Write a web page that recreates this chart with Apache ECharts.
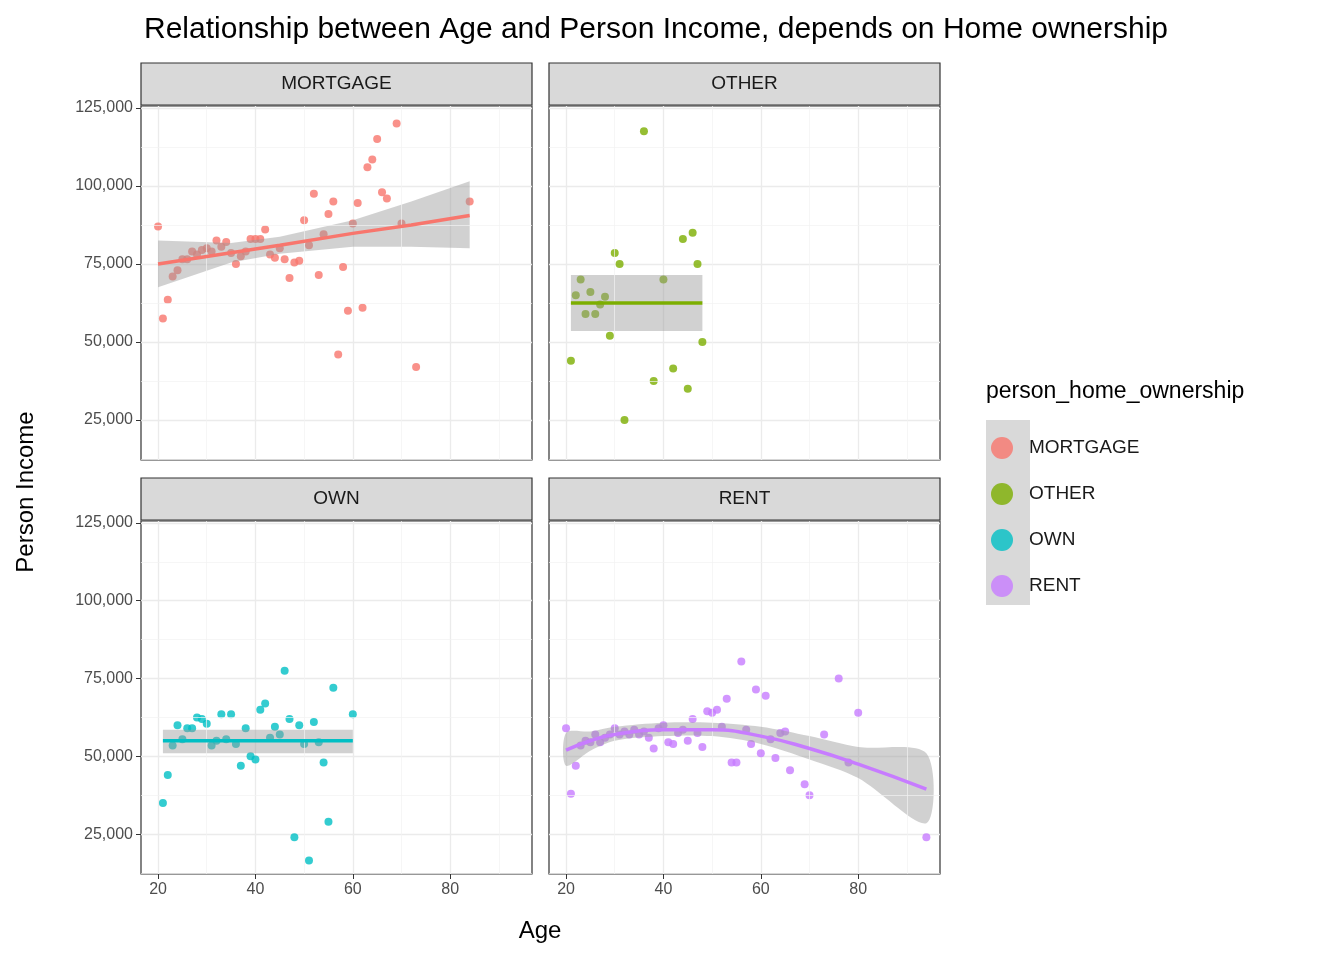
<!DOCTYPE html><html><head><meta charset="utf-8">
<script src="https://cdn.jsdelivr.net/npm/echarts@6/dist/echarts.min.js"></script>
<style>html,body{margin:0;padding:0;background:#fff}#c{width:1344px;height:960px}</style></head><body><div id="c"></div>
<script>
const panels=['MORTGAGE','OTHER','OWN','RENT'];
const colors=['#F8766D','#7CAE00','#00BFC4','#C77CFF'];
const xTicks=[20,40,60,80], xMinor=[30,50,70,90];
const yTicks=[25000,50000,75000,100000,125000], yMinor=[12500,37500,62500,87500,112500];
const mortgage=[[20,87000],[21,57500],[22,63500],[23,71000],[24,73000],[25,76500],[26,76500],[27,79000],[28,78000],[29,79500],[30,80000],[31,79000],[32,82500],[33,80500],[34,82000],[35,78500],[36,75000],[37,77500],[38,79000],[39,83000],[40,83000],[41,83000],[42,86000],[43,78000],[44,77000],[45,80000],[46,76500],[47,70500],[48,75500],[49,76000],[50,89000],[51,81000],[52,97500],[53,71500],[54,84500],[55,91000],[56,95000],[57,46000],[58,74000],[59,60000],[60,88000],[61,94500],[62,61000],[63,106000],[64,108500],[65,115000],[66,98000],[67,96000],[69,120000],[70,88000],[73,42000],[84,95000]];
const other=[[21,44000],[22,65000],[23,70000],[24,59000],[25,66000],[26,59000],[27,62000],[28,64500],[29,52000],[30,78500],[31,75000],[32,25000],[36,117500],[38,37500],[40,70000],[42,41500],[44,83000],[45,35000],[46,85000],[47,75000],[48,50000]];
const own=[[21,35000],[22,44000],[23,53500],[24,60000],[25,55500],[26,59000],[27,59000],[28,62500],[29,62000],[30,60500],[31,53500],[32,55000],[33,63500],[34,55500],[35,63500],[36,54000],[37,47000],[38,59000],[39,50000],[40,49000],[41,65000],[42,67000],[43,56000],[44,59500],[45,57000],[46,77500],[47,62000],[48,24000],[49,60000],[50,54000],[51,16500],[52,61000],[53,54500],[54,48000],[55,29000],[56,72000],[60,63500]];
const rent=[[20,59000],[21,38000],[22,47000],[23,53500],[24,55000],[25,54500],[26,57000],[27,54500],[28,56000],[29,57000],[30,59000],[31,57000],[32,58000],[33,57000],[34,58500],[35,57000],[36,58000],[37,56000],[38,52500],[39,59000],[40,60000],[41,54500],[42,54000],[43,57500],[44,58500],[45,55000],[46,62000],[47,57500],[48,53000],[49,64500],[50,64000],[51,65000],[52,59500],[53,68500],[54,48000],[55,48000],[56,80500],[57,58500],[58,54000],[59,71500],[60,51000],[61,69500],[62,55500],[63,49500],[64,57500],[65,58000],[66,45500],[69,41000],[70,37500],[73,57000],[76,75000],[78,48000],[80,64000],[94,24000]];
// fits: [x, fit, lower, upper]
const fitMortgage=[[20,75000,67500,82500],[35,78600,75500,81700],[45,81000,78300,83700],[60,84800,80500,89000],[72,87500,80500,95000],[84,90500,80000,101500]];
const fitOther=[[21,62500,53500,71500],[48,62500,53500,71500]];
const fitOwn=[[21,55000,51000,58500],[60,55000,51000,58500]];
const fitRent=[[20,52000,47000,57500],[25,55000,51800,58000],[30,57000,55000,59500],[40,58500,56500,60800],[50,58500,56500,60800],[60,56500,54000,59500],[70,52500,49000,56500],[80,47500,43000,53000],[94,39500,28500,51000]];
const pts=[mortgage,other,own,rent], fits=[fitMortgage,fitOther,fitOwn,fitRent];

const grids=[{left:141,top:106,width:391,height:354},{left:549,top:106,width:391,height:354},{left:141,top:521,width:391,height:353},{left:549,top:521,width:391,height:353}];
const F='Liberation Sans, Arial, sans-serif';
const xAxis=[],yAxis=[],series=[];
grids.forEach((g,i)=>{
  xAxis.push({type:'value',gridIndex:i,min:16.5,max:96.8,
    axisLine:{show:false},axisTick:{show:i>=2,customValues:xTicks,length:5,lineStyle:{color:'#333'}},
    axisLabel:{show:i>=2,customValues:xTicks,color:'#4d4d4d',fontSize:16,fontFamily:F,margin:8},
    splitLine:{show:true,lineStyle:{color:'#ebebeb',width:1.3}}});
  yAxis.push({type:'value',gridIndex:i,min:12200,max:125600,
    axisLine:{show:false},axisTick:{show:i%2==0,customValues:yTicks,length:5,lineStyle:{color:'#333'}},
    axisLabel:{show:i%2==0,customValues:yTicks,color:'#4d4d4d',fontSize:16,fontFamily:F,margin:8},
    splitLine:{show:true,lineStyle:{color:'#ebebeb',width:1.3}}});
  const band=fits[i];
  series.push({type:'scatter',xAxisIndex:i,yAxisIndex:i,data:[],silent:true,
    markLine:{silent:true,symbol:'none',label:{show:false},lineStyle:{color:'#f2f2f2',width:0.7,type:'solid'},
      data:xMinor.map(v=>({xAxis:v})).concat(yMinor.map(v=>({yAxis:v})))}});
  series.push({type:'scatter',name:panels[i],xAxisIndex:i,yAxisIndex:i,data:pts[i],symbolSize:8,
    itemStyle:{color:colors[i],opacity:0.8},z:3});
  series.push({type:'custom',xAxisIndex:i,yAxisIndex:i,data:[0],z:4,silent:true,
    renderItem:(params,api)=>{
      const up=band.map(r=>api.coord([r[0],r[3]]));
      const lo=band.map(r=>api.coord([r[0],r[2]])).reverse();
      return {type:'polygon',shape:{points:up.concat(lo),smooth:i==3?0.3:0},style:{fill:'rgba(153,153,153,0.45)'}};
    }});
  series.push({type:'line',name:panels[i],xAxisIndex:i,yAxisIndex:i,data:band.map(r=>[r[0],r[1]]),
    smooth:i==3,showSymbol:false,symbol:'circle',symbolSize:9,lineStyle:{color:colors[i],width:3.5},itemStyle:{color:colors[i]},z:5});
});
const strips=grids.map((g,i)=>({type:'group',children:[
  {type:'rect',shape:{x:g.left,y:g.top-43,width:g.width,height:42},style:{fill:'#d9d9d9',stroke:'#333',lineWidth:1.2}},
  {type:'text',x:g.left+g.width/2,y:g.top-22,style:{text:panels[i],fill:'#1a1a1a',font:'19px '+F,align:'center',verticalAlign:'middle'}}]}));
const opt={animation:false,backgroundColor:'#fff',
  title:{text:'Relationship between Age and Person Income, depends on Home ownership',left:139,top:10,textStyle:{fontFamily:F,fontSize:30,fontWeight:'normal',color:'#000'}},
  grid:grids.map(g=>Object.assign({show:true,borderColor:'#333',borderWidth:1.2,backgroundColor:'transparent'},g)),
  xAxis,yAxis,series,
  legend:{orient:'vertical',left:986,top:432,itemWidth:44,itemHeight:22,itemGap:24,data:panels,
    textStyle:{fontFamily:F,fontSize:19,color:'#1a1a1a'}},
  graphic:[{type:'rect',z:-1,shape:{x:986,y:420,width:44,height:185},style:{fill:'#d9d9d9'}},
    {type:'text',left:986,top:380,style:{text:'person_home_ownership',fill:'#000',font:'23px '+F}},
    {type:'text',x:540,y:931,style:{text:'Age',fill:'#000',font:'24px '+F,align:'center',verticalAlign:'middle'}},
    {type:'text',x:26,y:492,rotation:Math.PI/2,style:{text:'Person Income',fill:'#000',font:'24px '+F,align:'center',verticalAlign:'middle'}}].concat(strips)
};
echarts.init(document.getElementById('c')).setOption(opt);
</script></body></html>
